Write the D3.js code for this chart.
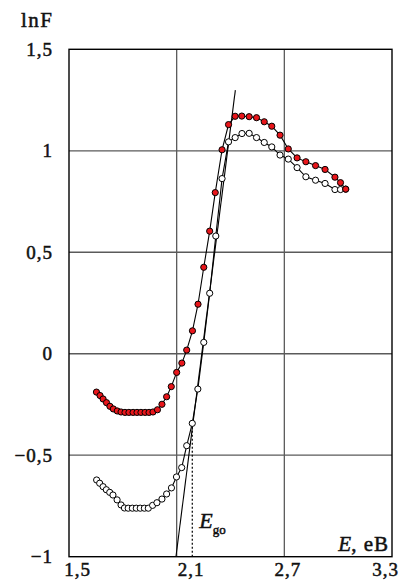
<!DOCTYPE html>
<html>
<head>
<meta charset="utf-8">
<script src="https://cdn.jsdelivr.net/npm/d3@7"></script>
<style>
  html, body { margin: 0; padding: 0; background: #fff; }
  svg { display: block; }
</style>
</head>
<body>
<div id="chart"></div>
<script>
// ===== data =====
const redE   = [1.653,1.673,1.690,1.709,1.728,1.747,1.769,1.790,1.812,1.834,1.857,1.879,1.901,1.924,1.946,1.968,1.993,2.018,2.044,2.070,2.100,2.129,2.156,2.188,2.219,2.251,2.284,2.315,2.353,2.389,2.426,2.463,2.504,2.545,2.588,2.630,2.676,2.722,2.771,2.820,2.874,2.927,2.982,3.013,3.042];
const redLnF = [-0.189,-0.206,-0.223,-0.241,-0.259,-0.272,-0.282,-0.287,-0.289,-0.289,-0.289,-0.289,-0.289,-0.289,-0.289,-0.287,-0.276,-0.249,-0.212,-0.162,-0.092,-0.046,0.018,0.113,0.244,0.426,0.604,0.794,1.005,1.129,1.170,1.171,1.168,1.163,1.143,1.121,1.077,1.009,0.965,0.946,0.927,0.908,0.870,0.843,0.811];

const whiteE   = [1.654,1.671,1.690,1.708,1.727,1.745,1.768,1.790,1.809,1.830,1.853,1.875,1.897,1.920,1.942,1.966,1.990,2.018,2.044,2.071,2.099,2.128,2.156,2.187,2.218,2.251,2.284,2.318,2.353,2.389,2.426,2.464,2.504,2.545,2.588,2.630,2.676,2.722,2.771,2.820,2.874,2.927,2.982,3.013,3.042];
const whiteLnF = [-0.622,-0.638,-0.655,-0.670,-0.683,-0.696,-0.720,-0.745,-0.760,-0.761,-0.761,-0.761,-0.761,-0.761,-0.761,-0.747,-0.734,-0.716,-0.691,-0.661,-0.607,-0.561,-0.453,-0.343,-0.174,0.056,0.298,0.580,0.863,1.044,1.065,1.085,1.086,1.065,1.041,1.019,0.979,0.959,0.917,0.872,0.855,0.839,0.809,0.809,0.811];

// straight-line fit of the edge, and the E_go marker
const fitE   = [2.096, 2.427];
const fitLnF = [-1, 1.299];
const egoE = 2.187, egoLnF = -0.343;

const xTicks = [1.5, 2.1, 2.7, 3.3];
const xTickShift = [8, 14, 3, -7];   // labels sit a little off their gridlines in the original
const yTicks = [-1, -0.5, 0, 0.5, 1, 1.5];

const SERIF = "'Liberation Serif', 'Times New Roman', 'DejaVu Serif', 'Noto Serif', serif";

// ===== layout =====
const W = 405, H = 580;
const plotL = 69, plotR = 392, plotT = 49.3, plotB = 556.7;

const x = d3.scaleLinear().domain([1.5, 3.3]).range([plotL, plotR]);
const y = d3.scaleLinear().domain([-1, 1.5]).range([plotB, plotT]);

const fmt = d => String(d).replace('.', ',').replace('-', '\u2212');

const svg = d3.select('#chart').append('svg')
  .attr('width', W).attr('height', H);

// grid
svg.append('g').selectAll('line')
  .data(xTicks.slice(1, -1))
  .enter().append('line')
  .attr('x1', d => x(d)).attr('x2', d => x(d))
  .attr('y1', plotT).attr('y2', plotB)
  .attr('stroke', '#5a5a5a').attr('stroke-width', 1.3);

svg.append('g').selectAll('line')
  .data(yTicks.slice(1, -1))
  .enter().append('line')
  .attr('x1', plotL).attr('x2', plotR)
  .attr('y1', d => y(d)).attr('y2', d => y(d))
  .attr('stroke', '#5a5a5a').attr('stroke-width', 1.3);

// frame
svg.append('rect')
  .attr('x', plotL).attr('y', plotT)
  .attr('width', plotR - plotL).attr('height', plotB - plotT)
  .attr('fill', 'none').attr('stroke', '#000').attr('stroke-width', 1.4);

// text styling helper
function serif(sel, size) {
  sel.style('font-family', SERIF)
    .style('font-size', size + 'px')
    .style('fill', '#111')
    .style('stroke', '#111')
    .style('stroke-width', '0.5px');
  return sel;
}

// axes (labels only)
const yAxis = svg.append('g')
  .attr('transform', `translate(${plotL},0)`)
  .call(d3.axisLeft(y).tickValues(yTicks).tickSize(0).tickPadding(16).tickFormat(fmt));
yAxis.select('.domain').remove();
serif(yAxis.selectAll('.tick text'), 19).style('letter-spacing', '1px');

const xAxis = svg.append('g')
  .attr('transform', `translate(0,${plotB})`)
  .call(d3.axisBottom(x).tickValues(xTicks).tickSize(0).tickPadding(6).tickFormat(fmt));
xAxis.select('.domain').remove();
serif(xAxis.selectAll('.tick text'), 19).style('letter-spacing', '1px')
  .attr('dx', (d, i) => xTickShift[i]);

// dotted E_go marker
svg.append('line')
  .attr('x1', x(egoE)).attr('x2', x(egoE))
  .attr('y1', y(-1)).attr('y2', y(egoLnF))
  .attr('stroke', '#000').attr('stroke-width', 1.2)
  .attr('stroke-dasharray', '2,2');

// curves
const redPts   = redE.map((e, i) => [e, redLnF[i]]);
const whitePts = whiteE.map((e, i) => [e, whiteLnF[i]]);
const line = d3.line().x(d => x(d[0])).y(d => y(d[1]));

svg.append('path').datum(whitePts)
  .attr('d', line).attr('fill', 'none').attr('stroke', '#000').attr('stroke-width', 1.1);
svg.append('path').datum(redPts)
  .attr('d', line).attr('fill', 'none').attr('stroke', '#000').attr('stroke-width', 1.1);

// fitted straight line
svg.append('path').datum(fitE.map((e, i) => [e, fitLnF[i]]))
  .attr('d', line).attr('fill', 'none').attr('stroke', '#000').attr('stroke-width', 1.1);

svg.append('g').selectAll('circle')
  .data(whitePts)
  .enter().append('circle')
  .attr('cx', d => x(d[0])).attr('cy', d => y(d[1]))
  .attr('r', 3.1)
  .attr('fill', '#fff').attr('stroke', '#000').attr('stroke-width', 1);

svg.append('g').selectAll('circle')
  .data(redPts)
  .enter().append('circle')
  .attr('cx', d => x(d[0])).attr('cy', d => y(d[1]))
  .attr('r', 3.1)
  .attr('fill', '#e8161b').attr('stroke', '#000').attr('stroke-width', 1);

// titles
serif(svg.append('text'), 21)
  .attr('x', 21).attr('y', 27)
  .style('letter-spacing', '1.5px')
  .text('lnF');

const eLabel = serif(svg.append('text'), 21)
  .attr('x', plotR - 3).attr('y', plotB - 6)
  .attr('text-anchor', 'end');
eLabel.append('tspan').style('font-style', 'italic').text('E');
eLabel.append('tspan').style('letter-spacing', '1px').text(', eB');

const egoLabel = serif(svg.append('text'), 22)
  .attr('x', x(egoE) + 7).attr('y', 528);
egoLabel.append('tspan').style('font-style', 'italic').text('E');
egoLabel.append('tspan').style('font-size', '13px').attr('dy', 6).text('go');
</script>
</body>
</html>
